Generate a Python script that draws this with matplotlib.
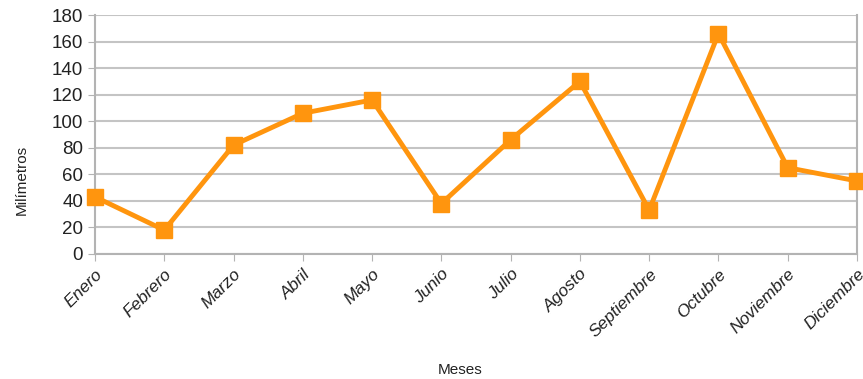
import matplotlib
matplotlib.use("Agg")
import matplotlib.pyplot as plt

months = ["Enero", "Febrero", "Marzo", "Abril", "Mayo", "Junio", "Julio",
          "Agosto", "Septiembre", "Octubre", "Noviembre", "Diciembre"]
values = [43, 18, 82, 106, 116, 38, 86, 130, 33, 166, 65, 55]
yticks = [0, 20, 40, 60, 80, 100, 120, 140, 160, 180]

plt.rcParams['font.family'] = ['Liberation Sans', 'DejaVu Sans']

W, H = 863, 379
fig = plt.figure(figsize=(W/100, H/100), dpi=100)
ax = fig.add_axes([95/W, 1-254/H, (857-95)/W, (254-15)/H])

color = '#ff950e'
x = list(range(len(months)))
ax.plot(x, values, color=color, lw=3.5, marker='s', ms=12, zorder=3, clip_on=False)

ax.set_xlim(0, len(months)-1)
ax.set_ylim(0, 180)
ax.set_yticks(yticks)
ax.set_xticks(x)
ax.set_xticklabels(months, rotation=45, ha='right', rotation_mode='anchor',
                   fontsize=12.5, color='#222222', style='italic')
ax.tick_params(axis='y', labelsize=13.5, colors='#222222', length=5, color='#b3b3b3')
ax.tick_params(axis='x', length=5, color='#b3b3b3', pad=4)
ax.grid(axis='y', color='#c4c4c4', lw=1.5)
ax.set_axisbelow(True)
for s in ['left', 'bottom', 'right']:
    ax.spines[s].set_color('#b3b3b3')
    ax.spines[s].set_linewidth(1.5)
ax.spines['top'].set_visible(False)

fig.text(22/W, 1-180/H, 'Milímetros', rotation=90, ha='center', va='center',
         fontsize=11, color='#222222')
fig.text(460/W, 1-370/H, 'Meses', ha='center', va='center', fontsize=11, color='#222222')

fig.savefig('out.png', dpi=100)
